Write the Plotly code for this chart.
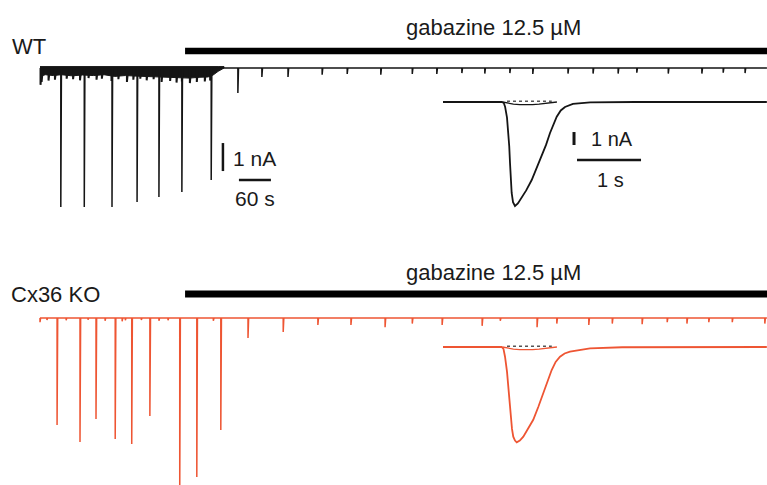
import plotly.graph_objects as go

# ---------------- DATA ----------------
# Overview recordings: event times (s) and peak amplitudes (nA, inward)
wt_event_t = [39, 83, 135, 182, 223, 266, 321, 371, 416, 465, 529, 576, 639, 698, 744,
              791, 834, 881, 924, 990, 1037, 1084, 1119, 1178, 1241, 1281, 1322]
wt_event_a = [4.96, 4.96, 4.96, 4.79, 4.61, 4.43, 4.0, 0.89, 0.32, 0.32, 0.24, 0.21, 0.24, 0.21, 0.21,
              0.18, 0.2, 0.18, 0.21, 0.2, 0.2, 0.2, 0.17, 0.2, 0.2, 0.17, 0.18]

# WT pre-gabazine spontaneous small events (time s, amplitude nA)
wt_small_t = [1, 3, 16, 28, 50, 62, 75, 91, 106, 116, 134, 147, 163, 175, 188, 200, 213, 228,
              244, 256, 266, 281, 294, 309, 319]
wt_small_a = [0.6, 0.5, 0.45, 0.42, 0.38, 0.4, 0.44, 0.36, 0.42, 0.38, 0.46, 0.4, 0.5, 0.42, 0.38,
              0.44, 0.4, 0.5, 0.46, 0.52, 0.48, 0.54, 0.5, 0.48, 0.45]

# WT pre-gabazine noise band (time s, lower edge nA)
wt_noise_t = [0, 10, 25, 40, 60, 80, 100, 120, 140, 160, 180, 200, 220, 240, 260, 280, 300, 315, 324, 334, 345]
wt_noise_d = [0.3, 0.24, 0.27, 0.24, 0.28, 0.25, 0.27, 0.24, 0.3, 0.27, 0.29, 0.3, 0.32, 0.33, 0.35, 0.36, 0.33, 0.32, 0.26, 0.12, 0.0]

ko_event_t = [0, 13, 32, 49, 75, 90, 105, 122, 141, 154, 160, 172, 190, 206, 223, 240, 262, 294, 325, 339,
              390, 456, 521, 583, 647, 698, 754, 829, 863, 932, 969, 1029, 1073, 1129, 1176, 1213, 1254, 1298, 1359]
ko_event_a = [0.15, 0.07, 3.82, 0.08, 4.43, 0.06, 3.61, 0.1, 4.32, 0.12, 0.08, 4.5, 0.07, 3.5, 0.1, 0.08, 6.3, 5.68, 0.1, 4.0,
              0.71, 0.5, 0.25, 0.25, 0.33, 0.2, 0.25, 0.28, 0.1, 0.33, 0.2, 0.25, 0.2, 0.22, 0.15, 0.2, 0.15, 0.15, 0.2]

recording_end = 1363      # s
gabazine_start = 272      # s

# Insets: single events (time s, current nA)
wt_inset_t = [0, 0.92, 0.95, 0.97, 1.00, 1.02, 1.035, 1.047, 1.06, 1.073, 1.094, 1.125, 1.17, 1.23, 1.30,
              1.386, 1.46, 1.542, 1.61, 1.672, 1.73, 1.777, 1.84, 1.906, 2.03, 2.30, 3.0, 3.45, 3.6, 3.75, 4.2, 5.06]
wt_inset_i = [0, 0, -0.08, -0.36, -1.2, -2.15, -3.4, -4.69, -6.0, -7.0, -7.7, -8.0, -7.8, -7.38, -6.8,
              -6.0, -5.15, -4.2, -3.3, -2.38, -1.65, -1.13, -0.65, -0.38, -0.15, -0.03, 0, 0, -0.05, 0, 0, 0]

ko_inset_t = [0, 0.917, 0.945, 0.969, 1.0, 1.02, 1.04, 1.058, 1.078, 1.098, 1.125, 1.152, 1.2, 1.255, 1.33,
              1.41, 1.49, 1.567, 1.63, 1.698, 1.76, 1.828, 1.90, 1.984, 2.297, 2.8, 5.06]
ko_inset_i = [0, 0, -0.15, -0.75, -1.9, -3.05, -4.3, -5.36, -6.3, -6.9, -7.2, -7.33, -7.2, -6.9, -6.3,
              -5.6, -4.6, -3.56, -2.6, -1.77, -1.15, -0.75, -0.5, -0.36, -0.1, -0.02, 0]

# small gabazine response superimposed in insets (time s, current nA)
gz_inset_t = [0.93, 1.0, 1.1, 1.2, 1.3, 1.4, 1.5, 1.6, 1.7, 1.78]
gz_inset_i = [0, -0.08, -0.16, -0.2, -0.22, -0.2, -0.17, -0.12, -0.06, 0]
dot_inset_t = [1.0, 1.70]
dot_inset_i = [0.06, 0.06]

# ---------------- LAYOUT CONSTANTS ----------------
W, H = 767, 485
ov_px_per_s = 32 / 60.0
ov_px_per_nA = 28.0
ov_x0_px = 40
wt_base_px, ko_base_px = 68, 318
in_px_per_s = 64.0
in_px_per_nA = 13.0
in_x0_px = 443
wt_in_base_px, ko_in_base_px = 102, 347

BLACK = "#151515"
RED = "#EE5533"
FONT = "Liberation Sans, Arial, Helvetica, sans-serif"


def xrange_for(x0_px, px_per_unit):
    return [-x0_px / px_per_unit, (W - x0_px) / px_per_unit]


def yrange_for(base_px, px_per_unit):
    return [-(H - base_px) / px_per_unit, base_px / px_per_unit]


def build_trace(ts, amps, t_end, w=1.2):
    xs, ys = [0], [0]
    for t, a in sorted(zip(ts, amps)):
        xs += [t, t, t + w]
        ys += [0, -a, 0]
    xs.append(t_end)
    ys.append(0)
    return xs, ys


fig = go.Figure()

# ---- WT overview ----
nx = wt_noise_t + wt_noise_t[::-1]
ny = [-d for d in wt_noise_d] + [0.05] * len(wt_noise_t)
fig.add_trace(go.Scatter(x=nx, y=ny, fill="toself", fillcolor=BLACK, mode="lines",
                         line=dict(color=BLACK, width=1), xaxis="x", yaxis="y"))
x, y = build_trace(wt_small_t, wt_small_a, wt_small_t[-1] + 2, w=2.5)
fig.add_trace(go.Scatter(x=x, y=y, mode="lines", line=dict(color=BLACK, width=2),
                         xaxis="x", yaxis="y"))
x, y = build_trace(wt_event_t, wt_event_a, recording_end)
fig.add_trace(go.Scatter(x=x, y=y, mode="lines", line=dict(color=BLACK, width=1.5),
                         xaxis="x", yaxis="y"))
# gabazine bar WT
fig.add_trace(go.Scatter(x=[gabazine_start, recording_end + 20], y=[0.61, 0.61], mode="lines",
                         line=dict(color="black", width=6.5), xaxis="x", yaxis="y"))
# overview scale bars (1 nA, 60 s)
fig.add_trace(go.Scatter(x=[343, 343], y=[-2.68, -3.68], mode="lines",
                         line=dict(color=BLACK, width=2.5), xaxis="x", yaxis="y"))
fig.add_trace(go.Scatter(x=[373, 433], y=[-4.0, -4.0], mode="lines",
                         line=dict(color=BLACK, width=2.5), xaxis="x", yaxis="y"))

# ---- KO overview ----
x, y = build_trace(ko_event_t, ko_event_a, recording_end)
fig.add_trace(go.Scatter(x=x, y=y, mode="lines", line=dict(color=RED, width=1.5),
                         xaxis="x", yaxis="y2"))
fig.add_trace(go.Scatter(x=[gabazine_start, recording_end + 20], y=[0.857, 0.857], mode="lines",
                         line=dict(color="black", width=7), xaxis="x", yaxis="y2"))

# ---- WT inset ----
fig.add_trace(go.Scatter(x=gz_inset_t, y=gz_inset_i, mode="lines", line=dict(color=BLACK, width=1.3),
                         xaxis="x2", yaxis="y3"))
fig.add_trace(go.Scatter(x=dot_inset_t, y=dot_inset_i, mode="lines",
                         line=dict(color="#555", width=1.5, dash="dot"), xaxis="x2", yaxis="y3"))
fig.add_trace(go.Scatter(x=wt_inset_t, y=wt_inset_i, mode="lines", line=dict(color=BLACK, width=1.8),
                         xaxis="x2", yaxis="y3"))
# inset scale bars (1 nA, 1 s)
fig.add_trace(go.Scatter(x=[2.047, 2.047], y=[-2.31, -3.31], mode="lines",
                         line=dict(color=BLACK, width=3), xaxis="x2", yaxis="y3"))
fig.add_trace(go.Scatter(x=[2.094, 3.094], y=[-4.46, -4.46], mode="lines",
                         line=dict(color=BLACK, width=2.5), xaxis="x2", yaxis="y3"))

# ---- KO inset ----
fig.add_trace(go.Scatter(x=gz_inset_t, y=gz_inset_i, mode="lines", line=dict(color=RED, width=1.3),
                         xaxis="x2", yaxis="y4"))
fig.add_trace(go.Scatter(x=dot_inset_t, y=dot_inset_i, mode="lines",
                         line=dict(color="#555", width=1.5, dash="dot"), xaxis="x2", yaxis="y4"))
fig.add_trace(go.Scatter(x=ko_inset_t, y=ko_inset_i, mode="lines", line=dict(color=RED, width=1.8),
                         xaxis="x2", yaxis="y4"))

hidden = dict(visible=False, showgrid=False, zeroline=False, fixedrange=True)


def py(px):
    return 1 - px / H


def pxx(px):
    return px / W


annots = [
    dict(text="WT", x=pxx(10), y=py(47), xanchor="left", yanchor="middle", size=22),
    dict(text="Cx36 KO", x=pxx(9), y=py(294), xanchor="left", yanchor="middle", size=22),
    dict(text="gabazine 12.5 \u00b5M", x=pxx(494), y=py(27), xanchor="center", yanchor="middle", size=22),
    dict(text="gabazine 12.5 \u00b5M", x=pxx(494), y=py(272), xanchor="center", yanchor="middle", size=22),
    dict(text="1 nA", x=pxx(231), y=py(159), xanchor="left", yanchor="middle", size=21),
    dict(text="60 s", x=pxx(255), y=py(198), xanchor="center", yanchor="middle", size=21),
    dict(text="1 nA", x=pxx(589), y=py(139), xanchor="left", yanchor="middle", size=20),
    dict(text="1 s", x=pxx(610), y=py(180), xanchor="center", yanchor="middle", size=20),
]

fig.update_layout(
    width=W, height=H,
    margin=dict(l=0, r=0, t=0, b=0),
    paper_bgcolor="white", plot_bgcolor="white",
    showlegend=False,
    xaxis=dict(range=xrange_for(ov_x0_px, ov_px_per_s), domain=[0, 1], **hidden),
    xaxis2=dict(range=xrange_for(in_x0_px, in_px_per_s), overlaying="x", **hidden),
    yaxis=dict(range=yrange_for(wt_base_px, ov_px_per_nA), domain=[0, 1], **hidden),
    yaxis2=dict(range=yrange_for(ko_base_px, ov_px_per_nA), overlaying="y", **hidden),
    yaxis3=dict(range=yrange_for(wt_in_base_px, in_px_per_nA), overlaying="y", **hidden),
    yaxis4=dict(range=yrange_for(ko_in_base_px, in_px_per_nA), overlaying="y", **hidden),
    annotations=[dict(text=a["text"], x=a["x"], y=a["y"], xref="paper", yref="paper",
                      xanchor=a["xanchor"], yanchor=a["yanchor"], showarrow=False,
                      font=dict(family=FONT, size=a["size"], color="#1a1a1a"))
                 for a in annots],
)

fig.write_html("out.html", config=dict(displayModeBar=False, staticPlot=True))
